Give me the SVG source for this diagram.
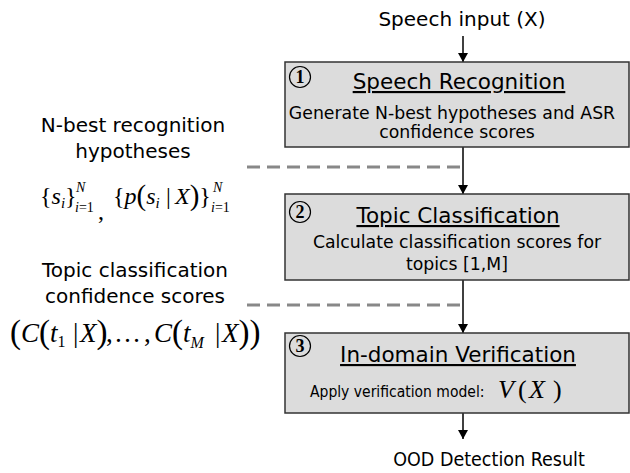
<svg xmlns="http://www.w3.org/2000/svg" width="630" height="473" viewBox="0 0 630 473">
  <style>
    .lbl { font-family: "DejaVu Sans", Verdana, sans-serif; font-size: 20px; fill: #000; }
    .cond { font-family: "DejaVu Sans Condensed", "DejaVu Sans", sans-serif; fill: #000; }
    .title { font-family: "DejaVu Sans", Verdana, sans-serif; font-size: 21.5px; fill: #000; text-anchor: middle; text-decoration: underline; }
    .sub { font-family: "DejaVu Sans", Verdana, sans-serif; font-size: 17.3px; fill: #000; text-anchor: middle; }
    .box { fill: #dcdcdc; stroke: #333; stroke-width: 1.5; }
    .num { fill: none; stroke: #000; stroke-width: 1.2; }
    .numt { font-family: "Liberation Serif", "Times New Roman", serif; font-weight: bold; font-size: 18px; text-anchor: middle; }
    .math { font-family: "Liberation Serif", "Times New Roman", serif; fill: #000; }
    .it { font-style: italic; }
    .flow { stroke: #000; stroke-width: 1.5; fill: none; marker-end: url(#arr); }
    .dash { stroke: #888; stroke-width: 3; stroke-dasharray: 13 7; fill: none; }
  </style>
  <defs>
    <marker id="arr" markerWidth="10" markerHeight="10" refX="9" refY="5" orient="auto" markerUnits="userSpaceOnUse">
      <path d="M0,0 L9,5 L0,10 z" fill="#000"/>
    </marker>
  </defs>

  <g id="connectors">
    <line class="flow" x1="463" y1="36" x2="463" y2="62"/>
    <line class="flow" x1="463" y1="147" x2="463" y2="194"/>
    <line class="flow" x1="463" y1="280" x2="463" y2="333"/>
    <line class="flow" x1="463" y1="413" x2="463" y2="439"/>
    <line class="dash" x1="247" y1="167" x2="463" y2="167"/>
    <line class="dash" x1="247" y1="305" x2="463" y2="305"/>
  </g>

  <g id="input">
    <text class="lbl" x="462" y="26" text-anchor="middle">Speech input (X)</text>
  </g>

  <g id="speech-recognition">
    <rect class="box" x="285" y="62" width="344" height="85"/>
    <circle class="num" cx="300" cy="77" r="10.5"/>
    <text class="numt" x="300" y="83">1</text>
    <text class="title" x="459" y="89">Speech Recognition</text>
    <text class="sub" x="452" y="119">Generate N-best hypotheses and ASR</text>
    <text class="sub" x="457" y="138">confidence scores</text>
  </g>

  <g id="topic-classification">
    <rect class="box" x="285" y="194" width="344" height="86"/>
    <circle class="num" cx="300" cy="212" r="10.5"/>
    <text class="numt" x="300" y="218">2</text>
    <text class="title" x="458" y="223">Topic Classification</text>
    <text class="sub" x="457" y="248">Calculate classification scores for</text>
    <text class="sub" x="457" y="270">topics [1,M]</text>
  </g>

  <g id="in-domain-verification">
    <rect class="box" x="285" y="333" width="344" height="80"/>
    <circle class="num" cx="300" cy="346" r="10.5"/>
    <text class="numt" x="300" y="352">3</text>
    <text class="title" x="458" y="362">In-domain Verification</text>
    <text class="cond" x="310" y="397" font-size="15.5">Apply verification model:</text>
    <text class="math" font-size="26" y="398"><tspan x="498" class="it">V</tspan><tspan x="518">(</tspan><tspan x="529" class="it">X</tspan><tspan x="553">)</tspan></text>
  </g>

  <g id="output">
    <text class="cond" x="489" y="466" font-size="19.5" text-anchor="middle">OOD Detection Result</text>
  </g>

  <g id="nbest-label">
    <text class="lbl" x="133" y="132" text-anchor="middle">N-best recognition</text>
    <text class="lbl" x="133" y="158" text-anchor="middle">hypotheses</text>
    <text class="math" font-size="24">
      <tspan x="40" y="204">{</tspan><tspan class="it">s</tspan><tspan class="it" font-size="15" y="208">i</tspan><tspan x="65" y="204">}</tspan><tspan x="76" y="192" class="it" font-size="14">N</tspan><tspan x="75" y="212" font-size="14"><tspan class="it">i</tspan>=1</tspan>
      <tspan x="98" y="219">,</tspan>
      <tspan x="113" y="204">{</tspan><tspan class="it">p</tspan><tspan font-size="29" y="205">(</tspan><tspan class="it" y="204">s</tspan><tspan class="it" font-size="15" y="208">i</tspan><tspan x="166" y="204">|</tspan><tspan x="175" class="it">X</tspan><tspan font-size="29" y="205">)</tspan><tspan y="204">}</tspan><tspan x="213" y="192" class="it" font-size="14">N</tspan><tspan x="211" y="212" font-size="14"><tspan class="it">i</tspan>=1</tspan>
    </text>
  </g>

  <g id="topic-label">
    <text class="lbl" x="135" y="277" text-anchor="middle">Topic classification</text>
    <text class="lbl" x="135" y="303" text-anchor="middle">confidence scores</text>
    <text class="math" font-size="27" y="342">
      <tspan x="10" font-size="33" y="343">(</tspan><tspan y="342" class="it">C</tspan><tspan font-size="33" y="343">(</tspan><tspan class="it" y="342">t</tspan><tspan font-size="16" y="347">1</tspan><tspan x="73" y="342">|</tspan><tspan x="80" class="it">X</tspan><tspan font-size="33" y="343">)</tspan><tspan x="106" y="342">,</tspan><tspan x="114">…</tspan><tspan x="144">,</tspan><tspan x="154" class="it">C</tspan><tspan font-size="33" y="343">(</tspan><tspan class="it" y="342">t</tspan><tspan class="it" font-size="16" y="348">M</tspan><tspan x="215" y="342">|</tspan><tspan x="222" class="it">X</tspan><tspan font-size="33" y="343">))</tspan>
    </text>
  </g>
</svg>
